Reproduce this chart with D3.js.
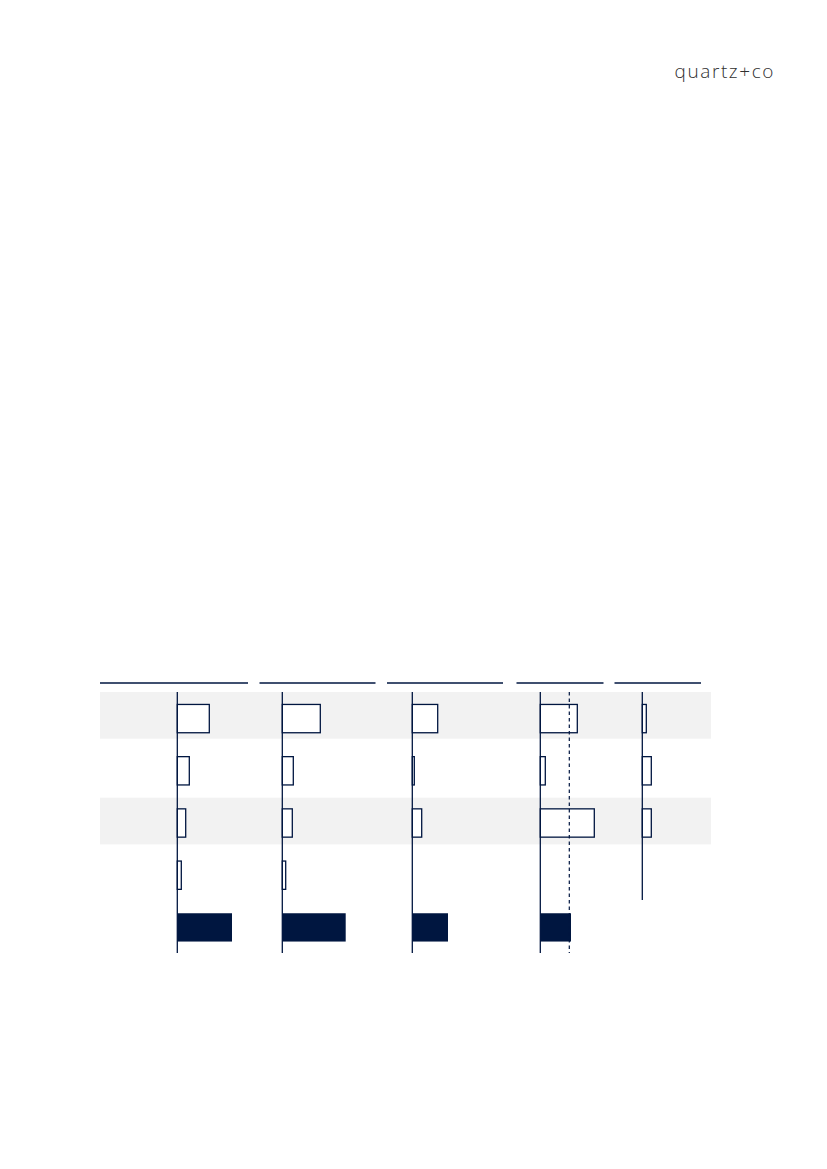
<!DOCTYPE html>
<html><head><meta charset="utf-8">
<script src="https://cdn.jsdelivr.net/npm/d3@7"></script>
<style>html,body{margin:0;padding:0;background:#fff;}svg{display:block;}</style>
</head><body>
<script>
// Data (arbitrary units)
const rows = ["r1", "r2", "r3", "r4", "total"];
const panels = ["p1", "p2", "p3", "p4", "p5"];
const panel1 = [32, 12, 8.4, 4, 54.7];
const panel2 = [38, 11, 10, 3.4, 63.4];
const panel3 = [25.4, 2, 9.4, null, 35.7];
const panel4 = [37, 5, 54, null, 30.7];
const panel5 = [4, 9, 9, null, null];
const panel4Reference = 29;
const seriesValues = [panel1, panel2, panel3, panel4, panel5];

const W = 827, H = 1169;
const navy = "#001640";
const svg = d3.select("body").append("svg").attr("width", W).attr("height", H);

// logo
svg.append("text").attr("x", 674.5).attr("y", 77.5)
  .attr("font-family", "'Open Sans', sans-serif").attr("font-weight", 300)
  .attr("font-size", 19).attr("fill", "#2f2f2f")
  .attr("textLength", 99).attr("lengthAdjust", "spacing")
  .text("quartz+co");

// layout
const panelAxisX = d3.scaleOrdinal().domain(panels).range([177.3, 282.3, 412.3, 540.3, 642.3]);
const headerSpans = [[100, 248], [259.5, 375.5], [387, 503], [516.5, 603.5], [614.5, 701]];
const y = d3.scaleBand().domain(rows).range([692, 953]).paddingInner(0).paddingOuter(0);
const x = d3.scaleLinear().domain([0, 100]).range([0, 100]);

// grey bands (rows 1 and 3)
["r1", "r3"].forEach(r => {
  svg.append("rect").attr("x", 100).attr("width", 611)
    .attr("y", y(r) + (r === "r3" ? 1.3 : 0)).attr("height", 46.7).attr("fill", "#f2f2f2");
});

// header lines
panels.forEach((p, i) => {
  svg.append("line").attr("x1", headerSpans[i][0]).attr("x2", headerSpans[i][1])
    .attr("y1", 683).attr("y2", 683).attr("stroke", navy).attr("stroke-width", 1.4);
});

const barH = 28.3;
const barY = r => y(r) + y.bandwidth() / 2 - barH / 2 + 0.5;

panels.forEach((p, i) => {
  const x0 = panelAxisX(p);
  const vals = seriesValues[i];
  const g = svg.append("g");
  g.selectAll("rect").data(rows.map((r, j) => ({ r, v: vals[j] })).filter(d => d.v != null))
    .join("rect")
    .attr("x", x0).attr("y", d => barY(d.r))
    .attr("width", d => x(d.v)).attr("height", barH)
    .attr("fill", d => d.r === "total" ? navy : "#fff")
    .attr("stroke", d => d.r === "total" ? "none" : navy)
    .attr("stroke-width", 1.3);
  const yEnd = (p === "p5") ? 900 : 953;
  g.append("line").attr("x1", x0).attr("x2", x0).attr("y1", 692).attr("y2", yEnd)
    .attr("stroke", navy).attr("stroke-width", 1.3);
  if (p === "p4") {
    g.append("line").attr("x1", x0 + x(panel4Reference)).attr("x2", x0 + x(panel4Reference))
      .attr("y1", 692).attr("y2", 953).attr("stroke", navy).attr("stroke-width", 1.2)
      .attr("stroke-dasharray", "3.5,3");
  }
});
</script>
</body></html>
